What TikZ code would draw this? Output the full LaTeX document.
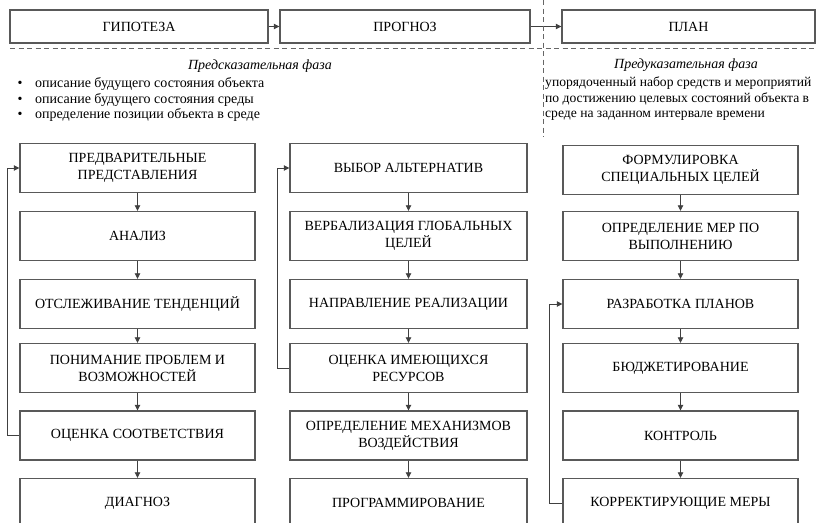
\documentclass[tikz,border=0pt]{standalone}
\usepackage{fontspec}
\setmainfont{Liberation Serif}
\usetikzlibrary{arrows.meta}
\begin{document}
\begin{tikzpicture}[x=1pt,y=-1pt,
  box/.style={draw=black!65, line width=1.4pt, fill=white, align=center,
    font=\fontsize{14}{17}\selectfont, inner sep=0pt, minimum height=49pt},
  lbox/.style={box, minimum width=235pt},
  mbox/.style={box, minimum width=237pt},
  rbox/.style={box, minimum width=235pt},
  topbox/.style={box, minimum height=33pt},
  flow/.style={draw=black!75, line width=0.8pt, -{Triangle[length=5.5pt,width=5.5pt]}},
  sep/.style={draw=black!60, line width=0.8pt, dash pattern=on 5pt off 3.5pt},
  txt/.style={font=\fontsize{14}{15}\selectfont, inner sep=0pt, anchor=base west},
  rtxt/.style={font=\fontsize{13.6}{15}\selectfont, inner sep=0pt, anchor=base west},
  head/.style={font=\fontsize{14}{15}\itshape, inner sep=0pt}]
\clip (0,0) rectangle (826,522);
\fill[white] (0,0) rectangle (826,522);

% top row
\node[topbox, minimum width=258pt] (hyp) at (139,26.5) {ГИПОТЕЗА};
\node[topbox, minimum width=250pt] (prog) at (405,26.5) {ПРОГНОЗ};
\node[topbox, minimum width=253pt] (plan) at (688.5,26.5) {ПЛАН};
\draw[flow] (hyp) -- (prog);
\draw[flow] (prog) -- (plan);

% separators
\draw[sep] (10,48) -- (815,48);
\draw[sep] (543,0) -- (543,137);

% phase captions
\node[head] (hl) at (260,66) {Предсказательная фаза};
\node[head] (hr) at (686,65) {Предуказательная фаза};

\node[txt, anchor=base] (d1) at (20,87.5) {\textbullet};
\node[txt, anchor=base] (d2) at (20,103) {\textbullet};
\node[txt, anchor=base] (d3) at (20,118.5) {\textbullet};
\node[txt] (t1) at (35,87.5) {описание будущего состояния объекта};
\node[txt] (t2) at (35,103) {описание будущего состояния среды};
\node[txt] (t3) at (35,118.5) {определение позиции объекта в среде};

\node[rtxt] (r1) at (545,86.5) {упорядоченный набор средств и мероприятий};
\node[rtxt] (r2) at (545,102) {по достижению целевых состояний объекта в};
\node[rtxt] (r3) at (545,117.5) {среде на заданном интервале времени};

% left column
\node[lbox] (l1) at (137.5,168) {ПРЕДВАРИТЕЛЬНЫЕ\\ПРЕДСТАВЛЕНИЯ};
\node[lbox] (l2) at (137.5,236) {АНАЛИЗ};
\node[lbox] (l3) at (137.5,304) {ОТСЛЕЖИВАНИЕ ТЕНДЕНЦИЙ};
\node[lbox] (l4) at (137.5,368) {ПОНИМАНИЕ ПРОБЛЕМ И\\ВОЗМОЖНОСТЕЙ};
\node[lbox] (l5) at (137.5,435.5) {ОЦЕНКА СООТВЕТСТВИЯ};
\node[lbox] (l6) at (137.5,503) {ДИАГНОЗ};

% middle column
\node[mbox] (m1) at (408.5,168) {ВЫБОР АЛЬТЕРНАТИВ};
\node[mbox] (m2) at (408.5,236) {ВЕРБАЛИЗАЦИЯ ГЛОБАЛЬНЫХ\\ЦЕЛЕЙ};
\node[mbox] (m3) at (408.5,304) {НАПРАВЛЕНИЕ РЕАЛИЗАЦИИ};
\node[mbox] (m4) at (408.5,368) {ОЦЕНКА ИМЕЮЩИХСЯ\\РЕСУРСОВ};
\node[mbox] (m5) at (408.5,435.5) {ОПРЕДЕЛЕНИЕ МЕХАНИЗМОВ\\ВОЗДЕЙСТВИЯ};
\node[mbox] (m6) at (408.5,503) {ПРОГРАММИРОВАНИЕ};

% right column
\node[rbox] (q1) at (680.5,170) {ФОРМУЛИРОВКА\\СПЕЦИАЛЬНЫХ ЦЕЛЕЙ};
\node[rbox] (q2) at (680.5,236) {ОПРЕДЕЛЕНИЕ МЕР ПО\\ВЫПОЛНЕНИЮ};
\node[rbox] (q3) at (680.5,304) {РАЗРАБОТКА ПЛАНОВ};
\node[rbox] (q4) at (680.5,368) {БЮДЖЕТИРОВАНИЕ};
\node[rbox] (q5) at (680.5,435.5) {КОНТРОЛЬ};
\node[rbox] (q6) at (680.5,503) {КОРРЕКТИРУЮЩИЕ МЕРЫ};

% vertical flows
\foreach \c in {l,m,q}{
  \draw[flow] (\c1) -- (\c2);
  \draw[flow] (\c2) -- (\c3);
  \draw[flow] (\c3) -- (\c4);
  \draw[flow] (\c4) -- (\c5);
  \draw[flow] (\c5) -- (\c6);
}

% feedback loops
\draw[flow] (l5.west) -- ++(-12,0) |- (l1.west);
\draw[flow] (m4.west) -- ++(-12,0) |- (m1.west);
\draw[flow] (q6.west) -- ++(-13,0) |- (q3.west);
\end{tikzpicture}
\end{document}
